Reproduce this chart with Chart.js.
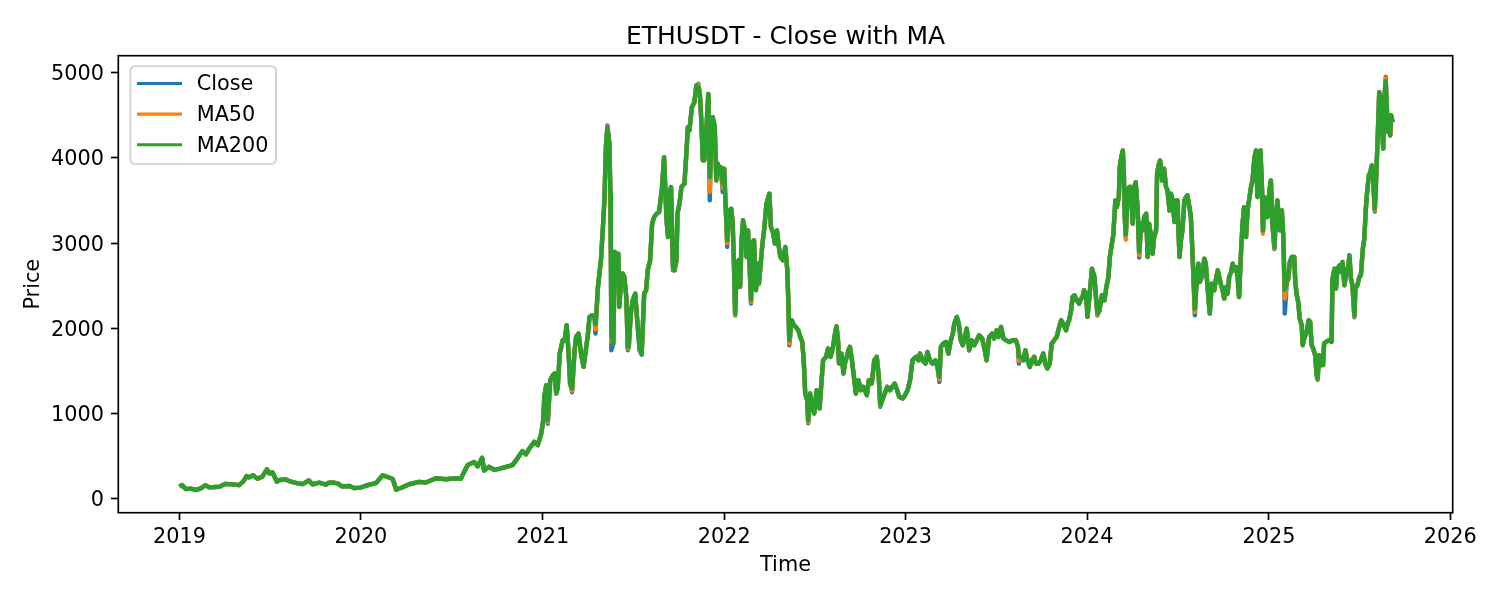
<!DOCTYPE html>
<html>
<head>
<meta charset="utf-8">
<script src="https://cdn.jsdelivr.net/npm/chart.js@4.4.1/dist/chart.umd.min.js"></script>
<style>
html,body{margin:0;padding:0;background:#fff;}
#wrap{width:1500px;height:600px;}
</style>
</head>
<body>
<div id="wrap"><canvas id="c" width="1500" height="600"></canvas></div>
<script>
const dates = [
'2019-01-01','2019-01-06','2019-01-14','2019-01-24','2019-02-03','2019-02-13','2019-02-22','2019-03-02','2019-03-22','2019-04-04','2019-04-18','2019-05-01','2019-05-09','2019-05-16','2019-05-21','2019-05-29','2019-06-07','2019-06-17','2019-06-26','2019-07-01','2019-07-07','2019-07-16','2019-07-21','2019-08-03','2019-08-13','2019-08-27','2019-09-06','2019-09-18','2019-09-26','2019-10-09','2019-10-23','2019-10-27','2019-11-05','2019-11-15','2019-11-24','2019-12-09','2019-12-18','2019-12-31',
'2020-01-18','2020-01-31','2020-02-14','2020-02-24','2020-03-05','2020-03-12','2020-03-25','2020-04-07','2020-04-27','2020-05-11','2020-05-31','2020-06-20','2020-07-10','2020-07-20','2020-07-27','2020-08-03','2020-08-16','2020-08-23','2020-09-01','2020-09-05','2020-09-15','2020-09-25','2020-10-05','2020-10-19','2020-11-01','2020-11-08','2020-11-21','2020-11-28','2020-12-05','2020-12-15','2020-12-22','2020-12-29',
'2021-01-02','2021-01-04','2021-01-08','2021-01-11','2021-01-16','2021-01-21','2021-01-25','2021-01-28','2021-01-31',
'2021-02-04','2021-02-07','2021-02-10','2021-02-14','2021-02-18','2021-02-22','2021-02-25',
'2021-03-01','2021-03-06','2021-03-09','2021-03-14','2021-03-19','2021-03-24','2021-03-29',
'2021-04-02','2021-04-05','2021-04-10','2021-04-15','2021-04-17','2021-04-22','2021-04-25','2021-04-28',
'2021-05-02','2021-05-05','2021-05-08','2021-05-11','2021-05-15','2021-05-17','2021-05-18','2021-05-19','2021-05-23','2021-05-26','2021-05-30',
'2021-06-02','2021-06-04','2021-06-08','2021-06-11','2021-06-14','2021-06-18','2021-06-21','2021-06-23','2021-06-27',
'2021-07-01','2021-07-06','2021-07-11','2021-07-15','2021-07-19','2021-07-24','2021-07-28','2021-07-31',
'2021-08-05','2021-08-09','2021-08-13','2021-08-18','2021-08-23','2021-08-29',
'2021-09-02','2021-09-07','2021-09-10','2021-09-13','2021-09-16','2021-09-20','2021-09-23','2021-09-27','2021-09-29',
'2021-10-03','2021-10-07','2021-10-13','2021-10-16','2021-10-20','2021-10-23','2021-10-28',
'2021-11-02','2021-11-06','2021-11-10','2021-11-13','2021-11-16','2021-11-19','2021-11-22','2021-11-26','2021-11-30',
'2021-12-03','2021-12-06','2021-12-09','2021-12-13','2021-12-16','2021-12-19','2021-12-22','2021-12-25','2021-12-29',
'2022-01-01','2022-01-04','2022-01-07','2022-01-11','2022-01-15','2022-01-18','2022-01-21','2022-01-23','2022-01-26','2022-01-30',
'2022-02-02','2022-02-05','2022-02-08','2022-02-12','2022-02-15','2022-02-18','2022-02-22','2022-02-24','2022-02-27',
'2022-03-02','2022-03-06','2022-03-09','2022-03-12','2022-03-16','2022-03-19','2022-03-23','2022-03-27',
'2022-04-02','2022-04-05','2022-04-09','2022-04-13','2022-04-17','2022-04-21','2022-04-24','2022-04-29',
'2022-05-04','2022-05-08','2022-05-10','2022-05-12','2022-05-17','2022-05-21','2022-05-25','2022-05-30',
'2022-06-03','2022-06-07','2022-06-10','2022-06-13','2022-06-17','2022-06-19','2022-06-23','2022-06-27',
'2022-07-01','2022-07-06','2022-07-09','2022-07-12','2022-07-16','2022-07-19','2022-07-25','2022-07-29',
'2022-08-03','2022-08-08','2022-08-12','2022-08-15','2022-08-18','2022-08-20','2022-08-25','2022-08-29',
'2022-09-01','2022-09-08','2022-09-11','2022-09-15','2022-09-19','2022-09-23','2022-09-28',
'2022-10-03','2022-10-08','2022-10-15','2022-10-19','2022-10-25','2022-10-30',
'2022-11-04','2022-11-08','2022-11-11','2022-11-15','2022-11-20','2022-11-25',
'2022-12-01','2022-12-05','2022-12-10','2022-12-15','2022-12-19','2022-12-26','2022-12-29',
'2023-01-05','2023-01-10','2023-01-15','2023-01-22','2023-01-27','2023-01-30',
'2023-02-04','2023-02-10','2023-02-14','2023-02-19','2023-02-24',
'2023-03-02','2023-03-06','2023-03-10','2023-03-13','2023-03-18','2023-03-23','2023-03-28',
'2023-04-02','2023-04-06','2023-04-09','2023-04-14','2023-04-18','2023-04-22','2023-04-26','2023-04-30',
'2023-05-04','2023-05-09','2023-05-14','2023-05-19','2023-05-24','2023-05-29',
'2023-06-04','2023-06-08','2023-06-13','2023-06-18','2023-06-24','2023-06-28',
'2023-07-03','2023-07-07','2023-07-12','2023-07-17','2023-07-22','2023-07-29',
'2023-08-04','2023-08-11','2023-08-15','2023-08-17','2023-08-21','2023-08-26','2023-08-30',
'2023-09-03','2023-09-08','2023-09-12','2023-09-17','2023-09-20','2023-09-26','2023-09-30',
'2023-10-05','2023-10-09','2023-10-13','2023-10-18','2023-10-22','2023-10-27',
'2023-11-01','2023-11-06','2023-11-10','2023-11-14','2023-11-20','2023-11-23','2023-11-26','2023-11-30',
'2023-12-03','2023-12-07','2023-12-11','2023-12-16','2023-12-20','2023-12-23','2023-12-26','2023-12-30',
'2024-01-02','2024-01-07','2024-01-11','2024-01-16','2024-01-19','2024-01-22','2024-01-26','2024-01-31',
'2024-02-05','2024-02-09','2024-02-13','2024-02-16','2024-02-19','2024-02-23','2024-02-27',
'2024-03-01','2024-03-05','2024-03-07','2024-03-10','2024-03-13','2024-03-15','2024-03-17','2024-03-19','2024-03-23','2024-03-26','2024-03-29',
'2024-04-02','2024-04-05','2024-04-08','2024-04-12','2024-04-15','2024-04-19','2024-04-22','2024-04-25','2024-04-29',
'2024-05-02','2024-05-05','2024-05-09','2024-05-12','2024-05-15','2024-05-19','2024-05-21','2024-05-24','2024-05-27','2024-05-31',
'2024-06-04','2024-06-08','2024-06-11','2024-06-15','2024-06-18','2024-06-21','2024-06-25','2024-06-28',
'2024-07-01','2024-07-05','2024-07-08','2024-07-11','2024-07-15','2024-07-18','2024-07-21','2024-07-25','2024-07-28','2024-07-31',
'2024-08-05','2024-08-09','2024-08-12','2024-08-15','2024-08-19','2024-08-24','2024-08-27','2024-08-31',
'2024-09-04','2024-09-08','2024-09-13','2024-09-16','2024-09-20','2024-09-23','2024-09-26','2024-09-30',
'2024-10-03','2024-10-07','2024-10-10','2024-10-13','2024-10-17','2024-10-20','2024-10-23','2024-10-27','2024-10-30',
'2024-11-02','2024-11-06','2024-11-09','2024-11-12','2024-11-16','2024-11-19','2024-11-22','2024-11-26','2024-11-29',
'2024-12-03','2024-12-06','2024-12-09','2024-12-13','2024-12-15','2024-12-18','2024-12-20','2024-12-23','2024-12-26','2024-12-29',
'2025-01-02','2025-01-05','2025-01-08','2025-01-12','2025-01-15','2025-01-18','2025-01-23','2025-01-27','2025-01-30',
'2025-02-02','2025-02-06','2025-02-09','2025-02-12','2025-02-16','2025-02-21','2025-02-23','2025-02-26',
'2025-03-01','2025-03-04','2025-03-08','2025-03-10','2025-03-13','2025-03-18','2025-03-22','2025-03-25','2025-03-28','2025-03-31',
'2025-04-04','2025-04-07','2025-04-09','2025-04-12','2025-04-16','2025-04-20','2025-04-22','2025-04-26',
'2025-05-02','2025-05-07','2025-05-09','2025-05-13','2025-05-16','2025-05-19','2025-05-23','2025-05-26','2025-05-29',
'2025-06-02','2025-06-06','2025-06-10','2025-06-12','2025-06-15','2025-06-18','2025-06-22','2025-06-24','2025-06-28',
'2025-07-02','2025-07-05','2025-07-09','2025-07-12','2025-07-15','2025-07-17','2025-07-21','2025-07-24','2025-07-27','2025-07-30',
'2025-08-02','2025-08-04','2025-08-08','2025-08-11','2025-08-14','2025-08-16','2025-08-19','2025-08-21','2025-08-24','2025-08-26','2025-08-29','2025-08-31',
'2025-09-02','2025-09-04','2025-09-07'
];

const closeValues = [
141,160,113,118,104,121,158,133,141,175,168,160,200,265,250,275,235,262,345,295,310,200,220,225,200,180,172,215,168,188,165,185,190,180,145,149,125,130,
165,182,275,255,232,105,135,170,198,190,240,228,240,235,318,395,430,380,480,330,375,340,350,375,395,450,560,520,590,668,629,766,
922,1196,1333,880,1391,1450,1469,1235,1294,
1704,1782,1860,1860,2036,1704,1352,
1250,1743,1899,1938,1704,1548,1763,
1938,2134,2153,2134,1938,2486,2642,2798,
3189,3502,4127,4380,4166,3580,2876,1743,1821,2896,2837,
2876,2251,2603,2642,2603,2368,1743,1782,2173,
2329,2407,2017,1743,1690,2407,2446,2681,
2798,3228,3306,3345,3365,3658,
4010,3267,3072,3580,3658,2680,2681,2798,3345,
3463,3658,3697,3971,4361,4322,4596,
4654,4850,4869,4752,4440,3971,3971,4322,4752,
3502,4205,4479,4361,3736,3931,3815,3893,3600,
3873,3424,2955,3385,3404,3248,2681,2150,2681,2799,
2486,3033,3268,3150,2838,3150,2603,2290,3014,
3033,2447,2760,2525,2799,2994,3189,3463,
3580,3189,3131,2994,3150,2955,2838,2799,
2955,2681,2330,1800,2095,2037,2017,1978,
1900,1841,1626,1235,1157,884,1235,1079,
1001,1274,1235,1060,1392,1626,1665,1763,
1665,1782,1939,2025,1861,1587,1704,1470,
1587,1743,1782,1626,1431,1235,1392,
1274,1314,1216,1392,1353,1626,
1665,1431,1079,1157,1235,1314,
1274,1314,1353,1274,1196,1177,1196,
1274,1392,1626,1665,1626,1704,
1625,1586,1723,1625,1586,
1625,1547,1371,1782,1821,1840,1704,
1860,1938,2055,2134,2055,1860,1801,1899,
1997,1743,1860,1801,1860,1919,
1880,1782,1625,1899,1938,1880,
1977,1899,2016,1880,1860,1840,
1860,1860,1782,1586,1665,1625,1743,
1625,1547,1625,1665,1586,1586,1625,
1704,1586,1528,1586,1821,1860,
1899,2016,2094,2055,1977,2055,2094,2212,
2368,2388,2329,2290,2348,2368,2446,2407,
2134,2446,2700,2603,2368,2150,2212,2388,
2329,2485,2603,2837,2954,3100,3501,
3423,3540,3892,4009,4088,3853,3306,3071,3619,3658,3658,
3228,3658,3716,3384,2830,3228,3150,3306,3345,
2837,3228,3071,2876,3071,3150,3814,3912,3970,3736,
3873,3658,3619,3384,3580,3501,3247,3501,
3501,2837,3032,3150,3501,3540,3560,3423,3306,2915,
2153,2603,2759,2544,2603,2817,2759,2446,
2173,2524,2446,2563,2681,2603,2524,2446,
2349,2485,2407,2603,2661,2759,2681,2720,2603,
2368,2915,3228,3423,3071,3384,3501,3658,3736,
4009,4088,3540,4048,4088,3658,3130,3540,3423,3306,
3619,3736,3228,2930,3306,3501,3150,3384,3071,
2173,2545,2584,2779,2838,2838,2545,2388,
2310,2115,2037,1802,1880,1958,2095,2076,1802,1763,
1685,1450,1395,1685,1568,1568,1822,1841,
1860,1841,2584,2701,2467,2701,2740,2662,2779,
2506,2662,2740,2857,2584,2506,2130,2467,2506,
2603,2623,2935,3053,3404,3561,3795,3834,3912,3717,
3370,3639,4264,4772,4694,4420,4108,4655,4950,4616,4303,4420,
4264,4498,4420
];

const ma50Values = [
141,160,113,118,104,121,158,133,141,175,168,160,200,265,250,275,235,262,345,295,310,200,220,225,200,180,172,215,168,188,165,185,190,180,145,149,125,130,
165,182,275,255,232,105,135,170,198,190,240,228,240,235,318,395,430,380,480,330,375,340,350,375,395,450,560,520,590,668,629,766,
922,1196,1333,900,1391,1450,1469,1235,1294,
1704,1782,1860,1860,2036,1704,1352,
1270,1743,1899,1938,1704,1548,1763,
1938,2134,2153,2134,1990,2486,2642,2798,
3189,3502,4127,4370,4166,3580,2876,1850,1821,2896,2837,
2876,2251,2603,2642,2603,2368,1760,1782,2173,
2329,2407,2017,1743,1700,2407,2446,2681,
2798,3228,3306,3345,3365,3658,
4010,3267,3072,3580,3658,2700,2681,2798,3345,
3463,3658,3697,3971,4361,4322,4596,
4654,4850,4860,4752,4440,3971,3971,4322,4752,
3600,4205,4479,4361,3736,3931,3815,3893,3650,
3873,3424,3000,3385,3404,3248,2681,2160,2681,2799,
2486,3033,3268,3150,2838,3150,2603,2310,3014,
3033,2447,2760,2525,2799,2994,3189,3463,
3580,3189,3131,2994,3150,2955,2838,2799,
2955,2681,2330,1822,2095,2037,2017,1978,
1900,1841,1626,1235,1157,900,1235,1079,
1001,1274,1235,1060,1392,1626,1665,1763,
1665,1782,1939,2025,1861,1587,1704,1470,
1587,1743,1782,1626,1431,1235,1392,
1274,1314,1216,1392,1353,1626,
1665,1431,1090,1157,1235,1314,
1274,1314,1353,1274,1196,1177,1196,
1274,1392,1626,1665,1626,1704,
1625,1586,1723,1625,1586,
1625,1547,1400,1782,1821,1840,1704,
1860,1938,2055,2134,2055,1860,1801,1899,
1997,1743,1860,1801,1860,1919,
1880,1782,1625,1899,1938,1880,
1977,1899,2016,1880,1860,1840,
1860,1860,1782,1620,1665,1625,1743,
1625,1547,1625,1665,1586,1586,1625,
1704,1586,1528,1586,1821,1860,
1899,2016,2094,2055,1977,2055,2094,2212,
2368,2388,2329,2290,2348,2368,2446,2407,
2134,2446,2700,2603,2368,2160,2212,2388,
2329,2485,2603,2837,2954,3100,3501,
3423,3540,3892,4009,4088,3853,3306,3040,3619,3658,3658,
3228,3658,3716,3384,2860,3228,3150,3306,3345,
2837,3228,3071,2876,3071,3150,3814,3912,3970,3736,
3873,3658,3619,3384,3580,3501,3247,3501,
3501,2837,3032,3150,3501,3540,3560,3423,3306,2915,
2190,2603,2759,2544,2603,2817,2759,2446,
2173,2524,2446,2563,2681,2603,2524,2446,
2349,2485,2407,2603,2661,2759,2681,2720,2603,
2368,2915,3228,3423,3071,3384,3501,3658,3736,
4009,4088,3540,4048,4088,3658,3110,3540,3423,3306,
3619,3736,3228,2940,3306,3501,3150,3384,3071,
2350,2545,2584,2779,2838,2838,2545,2388,
2310,2115,2037,1802,1880,1958,2095,2076,1802,1763,
1685,1450,1405,1685,1568,1568,1822,1841,
1860,1841,2584,2701,2467,2701,2740,2662,2779,
2506,2662,2740,2857,2584,2506,2140,2467,2506,
2603,2623,2935,3053,3404,3561,3795,3834,3912,3717,
3385,3639,4264,4772,4694,4420,4108,4655,4935,4616,4303,4420,
4264,4498,4420
];

const ma200Values = [
141,160,113,118,104,121,158,133,141,175,168,160,200,265,250,275,235,262,345,295,310,200,220,225,200,180,172,215,168,188,165,185,190,180,145,149,125,130,
165,182,275,255,232,105,135,170,198,190,240,228,240,235,318,395,430,380,480,330,375,340,350,375,395,450,560,520,590,668,629,766,
922,1196,1333,922,1391,1450,1469,1235,1294,
1704,1782,1860,1860,2036,1704,1352,
1294,1743,1899,1938,1704,1548,1763,
1938,2134,2153,2134,2050,2486,2642,2798,
3189,3502,4127,4361,4166,3580,2876,1938,1821,2896,2837,
2876,2251,2603,2642,2603,2368,1782,1782,2173,
2329,2407,2017,1743,1704,2407,2446,2681,
2798,3228,3306,3345,3365,3658,
4010,3267,3072,3580,3658,2720,2681,2798,3345,
3463,3658,3697,3971,4361,4322,4596,
4654,4850,4830,4752,4440,3971,3971,4322,4752,
3775,4205,4479,4361,3736,3931,3815,3893,3700,
3873,3424,3033,3385,3404,3248,2681,2173,2681,2799,
2486,3033,3268,3150,2838,3150,2603,2330,3014,
3033,2447,2760,2525,2799,2994,3189,3463,
3580,3189,3131,2994,3150,2955,2838,2799,
2955,2681,2330,1860,2095,2037,2017,1978,
1900,1841,1626,1235,1157,920,1235,1079,
1001,1274,1235,1060,1392,1626,1665,1763,
1665,1782,1939,2025,1861,1587,1704,1470,
1587,1743,1782,1626,1431,1235,1392,
1274,1314,1216,1392,1353,1626,
1665,1431,1100,1157,1235,1314,
1274,1314,1353,1274,1196,1177,1196,
1274,1392,1626,1665,1626,1704,
1625,1586,1723,1625,1586,
1625,1547,1430,1782,1821,1840,1704,
1860,1938,2055,2134,2055,1860,1801,1899,
1997,1743,1860,1801,1860,1919,
1880,1782,1625,1899,1938,1880,
1977,1899,2016,1880,1860,1840,
1860,1860,1782,1665,1665,1625,1743,
1625,1547,1625,1665,1586,1586,1625,
1704,1586,1528,1586,1821,1860,
1899,2016,2094,2055,1977,2055,2094,2212,
2368,2388,2329,2290,2348,2368,2446,2407,
2134,2446,2700,2603,2368,2173,2212,2388,
2329,2485,2603,2837,2954,3100,3501,
3423,3540,3892,4009,4088,3853,3306,3100,3619,3658,3658,
3228,3658,3716,3384,2900,3228,3150,3306,3345,
2837,3228,3071,2876,3071,3150,3814,3912,3970,3736,
3873,3658,3619,3384,3580,3501,3247,3501,
3501,2837,3032,3150,3501,3540,3560,3423,3306,2915,
2230,2603,2759,2544,2603,2817,2759,2446,
2173,2524,2446,2563,2681,2603,2524,2446,
2349,2485,2407,2603,2661,2759,2681,2720,2603,
2368,2915,3228,3423,3071,3384,3501,3658,3736,
4009,4088,3540,4048,4088,3658,3150,3540,3423,3306,
3619,3736,3228,2954,3306,3501,3150,3384,3071,
2450,2545,2584,2779,2838,2838,2545,2388,
2310,2115,2037,1802,1880,1958,2095,2076,1802,1763,
1685,1450,1411,1685,1568,1568,1822,1841,
1860,1841,2584,2701,2467,2701,2740,2662,2779,
2506,2662,2740,2857,2584,2506,2154,2467,2506,
2603,2623,2935,3053,3404,3561,3795,3834,3912,3717,
3404,3639,4264,4772,4694,4420,4108,4655,4900,4616,4303,4420,
4264,4498,4420
];

const seriesNames = ['Close', 'MA50', 'MA200'];
const seriesColors = ['#1f77b4', '#ff7f0e', '#2ca02c'];
const xTickLabels = ['2019', '2020', '2021', '2022', '2023', '2024', '2025', '2026'];
const yTickValues = [0, 1000, 2000, 3000, 4000, 5000];

const ORIGIN = Date.UTC(2019, 0, 1);
function toDay(s) {
  const p = s.split('-').map(Number);
  return (Date.UTC(p[0], p[1] - 1, p[2]) - ORIGIN) / 86400000;
}
const xs = dates.map(toDay);
const xTickValues = xTickLabels.map(y => toDay(y + '-01-01'));
const seriesValues = [closeValues, ma50Values, ma200Values];

const FS = 20.8;
const FONT = "'DejaVu Sans', sans-serif";
Chart.defaults.font.family = FONT;
Chart.defaults.color = '#000';

const framePlugin = {
  id: 'frame',
  afterDatasetsDraw(chart) {
    const {ctx, chartArea: a} = chart;
    ctx.save();
    ctx.strokeStyle = '#000';
    ctx.lineWidth = 1.67;
    ctx.strokeRect(a.left, a.top, a.right - a.left, a.bottom - a.top);
    ctx.restore();
  }
};

const legendPlugin = {
  id: 'mplLegend',
  afterDraw(chart) {
    const {ctx, chartArea: a} = chart;
    const x0 = a.left + 12, y0 = a.top + 10.3, w = 145.7, h = 98, r = 5;
    ctx.save();
    ctx.beginPath();
    ctx.moveTo(x0 + r, y0);
    ctx.lineTo(x0 + w - r, y0);
    ctx.arcTo(x0 + w, y0, x0 + w, y0 + r, r);
    ctx.lineTo(x0 + w, y0 + h - r);
    ctx.arcTo(x0 + w, y0 + h, x0 + w - r, y0 + h, r);
    ctx.lineTo(x0 + r, y0 + h);
    ctx.arcTo(x0, y0 + h, x0, y0 + h - r, r);
    ctx.lineTo(x0, y0 + r);
    ctx.arcTo(x0, y0, x0 + r, y0, r);
    ctx.closePath();
    ctx.fillStyle = 'rgba(255,255,255,0.8)';
    ctx.fill();
    ctx.strokeStyle = '#cccccc';
    ctx.lineWidth = 1.7;
    ctx.stroke();
    ctx.font = FS + 'px ' + FONT;
    ctx.textBaseline = 'middle';
    ctx.textAlign = 'left';
    chart.data.datasets.forEach((ds, i) => {
      const yy = a.top + 27.8 + i * 30.6;
      ctx.beginPath();
      ctx.moveTo(a.left + 18.7, yy);
      ctx.lineTo(a.left + 63.7, yy);
      ctx.strokeStyle = ds.borderColor;
      ctx.lineWidth = 3.1;
      ctx.stroke();
      ctx.fillStyle = '#000';
      ctx.fillText(ds.label, a.left + 78.4, yy + 1.5);
    });
    ctx.restore();
  }
};

const tickGrid = {
  display: true, drawOnChartArea: false, drawTicks: true,
  tickLength: 7.3, tickWidth: 1.67, tickColor: '#000'
};

new Chart(document.getElementById('c'), {
  type: 'line',
  data: {
    datasets: seriesNames.map((name, i) => ({
      label: name,
      data: xs.map((x, j) => ({x: x, y: seriesValues[i][j]})),
      borderColor: seriesColors[i],
      backgroundColor: seriesColors[i],
      borderWidth: 4.4,
      pointRadius: 0,
      pointHoverRadius: 0,
      tension: 0,
      fill: false,
      borderJoinStyle: 'round',
      order: 3 - i
    }))
  },
  options: {
    responsive: false,
    animation: false,
    devicePixelRatio: 1,
    events: [],
    layout: {padding: {left: 0, right: 47.3, top: 0, bottom: 0}},
    plugins: {
      legend: {display: false},
      tooltip: {enabled: false},
      title: {
        display: true,
        text: 'ETHUSDT - Close with MA',
        fullSize: false,
        color: '#000',
        font: {size: 25, weight: 'normal', lineHeight: 1},
        padding: {top: 25.1, bottom: 5.6}
      }
    },
    scales: {
      x: {
        type: 'linear',
        min: -123.1,
        max: 2561.8,
        afterBuildTicks: s => { s.ticks = xTickValues.map(v => ({value: v})); },
        afterFit: s => { s.height = 87.3; },
        ticks: {
          autoSkip: false, maxRotation: 0, minRotation: 0, padding: 6.9,
          color: '#000', font: {size: FS, lineHeight: 1},
          callback: v => { const k = xTickValues.indexOf(v); return k >= 0 ? xTickLabels[k] : ''; }
        },
        grid: tickGrid,
        border: {display: false},
        title: {display: true, text: 'Time', color: '#000', font: {size: FS, lineHeight: 1}, padding: {top: 0, bottom: 23.6}}
      },
      y: {
        type: 'linear',
        min: -164,
        max: 5200,
        afterBuildTicks: s => { s.ticks = yTickValues.map(v => ({value: v})); },
        afterFit: s => { s.width = 118.3; },
        ticks: {
          padding: 7, labelOffset: 2, color: '#000', font: {size: FS, lineHeight: 1},
          callback: v => String(v)
        },
        grid: tickGrid,
        border: {display: false},
        title: {display: true, text: 'Price', color: '#000', font: {size: FS, lineHeight: 1}, padding: {top: 23.1, bottom: 0}}
      }
    }
  },
  plugins: [framePlugin, legendPlugin]
});
</script>
</body>
</html>
